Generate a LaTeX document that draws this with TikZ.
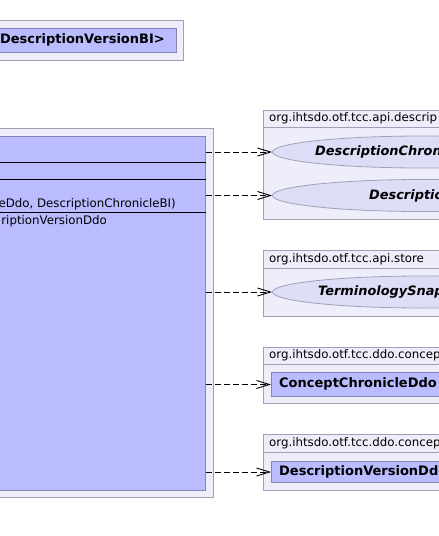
\documentclass[tikz,border=0pt]{standalone}
\usepackage{fontspec}
\setmainfont{DejaVu Sans}
\usetikzlibrary{arrows.meta,shapes.geometric,positioning}

\definecolor{pkgfill}{HTML}{EEEEFA}
\definecolor{pkgline}{HTML}{A0A0B4}
\definecolor{clsfill}{HTML}{BBBBFF}
\definecolor{clsline}{HTML}{8585B5}
\definecolor{iffill}{HTML}{DDDDF8}
\definecolor{ifline}{HTML}{A0A0B8}

\tikzstyle{pkgstyle} = [draw=pkgline, fill=pkgfill, line width=1pt, anchor=north west, inner sep=0]
\tikzstyle{clsstyle} = [draw=clsline, fill=clsfill, line width=1pt, anchor=north west, inner sep=0]
\tikzstyle{ifstyle} = [ellipse, draw=ifline, fill=iffill, line width=0.8pt, anchor=west, minimum width=300pt, minimum height=32pt, inner sep=0]
\tikzstyle{txtstyle} = [inner sep=0, font=\fontsize{11.8}{14}\selectfont]
\tikzstyle{boldtxt} = [inner sep=0, font=\fontsize{13}{15}\selectfont\bfseries]
\tikzstyle{ifacetxt} = [inner sep=0, font=\fontsize{12.9}{15}\selectfont\bfseries\itshape]
\tikzstyle{depstyle} = [line width=0.9pt, dash pattern=on 6pt off 3pt, -{Straight Barb[length=13pt, width=8pt]}]

\begin{document}
\begin{tikzpicture}[x=1pt, y=-1pt]
  \useasboundingbox (0,0) rectangle (439,536);
  \clip (0,0) rectangle (439,536);

  \node at (-20, 20) [pkgstyle, minimum width=203pt, minimum height=40pt] (topPkg) {};
  \node at (-15, 28) [clsstyle, minimum width=191pt, minimum height=24pt] (versionBI) {};
  \node at (165, 40) [boldtxt, anchor=east] (versionBItxt) {DescriptionVersionBI>};

  \node at (-20, 128) [pkgstyle, minimum width=233pt, minimum height=369pt] (mainPkg) {};
  \node at (-15, 136) [clsstyle, minimum width=220pt, minimum height=354pt] (ddo) {};
  \draw (ddo.west |- 0,162) -- (ddo.east |- 0,162);
  \draw (ddo.west |- 0,179) -- (ddo.east |- 0,179);
  \draw (ddo.west |- 0,212) -- (ddo.east |- 0,212);
  \node at (176, 204.5) [txtstyle, anchor=east] (ctor) {eDdo, DescriptionChronicleBI)};
  \node at (107, 221.5) [txtstyle, anchor=east] (method) {riptionVersionDdo};

  \node at (263, 110) [pkgstyle, minimum width=200pt, minimum height=109pt] (apiDesc) {};
  \draw[draw=pkgline, line width=1pt] (apiDesc.west |- 0,127) -- (apiDesc.east |- 0,127);
  \node at (269, 118.5) [txtstyle, anchor=west] (apiDescTxt) {org.ihtsdo.otf.tcc.api.descrip};
  \node at (272, 152) [ifstyle] (chronBI) {};
  \node at (315, 152) [ifacetxt, anchor=west] (chronBItxt) {DescriptionChron};
  \node at (272, 195.5) [ifstyle] (descBI) {};
  \node at (369, 195.5) [ifacetxt, anchor=west] (descBItxt) {Descriptio};

  \node at (263, 250) [pkgstyle, minimum width=200pt, minimum height=66pt] (apiStore) {};
  \draw[draw=pkgline, line width=1pt] (apiStore.west |- 0,268) -- (apiStore.east |- 0,268);
  \node at (269, 259) [txtstyle, anchor=west] (apiStoreTxt) {org.ihtsdo.otf.tcc.api.store};
  \node at (272, 292) [ifstyle] (snapshot) {};
  \node at (318, 292) [ifacetxt, anchor=west] (snapshottxt) {TerminologySnap};

  \node at (263, 347) [pkgstyle, minimum width=200pt, minimum height=56pt] (ddoConcept) {};
  \draw[draw=pkgline, line width=1pt] (ddoConcept.west |- 0,364) -- (ddoConcept.east |- 0,364);
  \node at (269, 355) [txtstyle, anchor=west] (ddoConceptTxt) {org.ihtsdo.otf.tcc.ddo.concep};
  \node at (271, 372) [clsstyle, minimum width=190pt, minimum height=24pt] (conceptDdo) {};
  \node at (279, 384) [boldtxt, anchor=west] (conceptDdoTxt) {ConceptChronicleDdo};

  \node at (263, 434) [pkgstyle, minimum width=200pt, minimum height=56pt] (ddoDesc) {};
  \draw[draw=pkgline, line width=1pt] (ddoDesc.west |- 0,452) -- (ddoDesc.east |- 0,452);
  \node at (269, 443) [txtstyle, anchor=west] (ddoDescTxt) {org.ihtsdo.otf.tcc.ddo.concep};
  \node at (271, 461) [clsstyle, minimum width=190pt, minimum height=21pt] (versionDdo) {};
  \node at (279, 471.5) [boldtxt, anchor=west] (versionDdoTxt) {DescriptionVersionDdo};

  \path[depstyle]
     (ddo.east |- chronBI.west) edge (chronBI.west)
     (ddo.east |- descBI.west) edge (descBI.west)
     (ddo.east |- snapshot.west) edge (snapshot.west)
     (ddo.east |- conceptDdo.west) edge (conceptDdo.west)
     (ddo.east |- versionDdo.west) edge (versionDdo.west);
\end{tikzpicture}
\end{document}
